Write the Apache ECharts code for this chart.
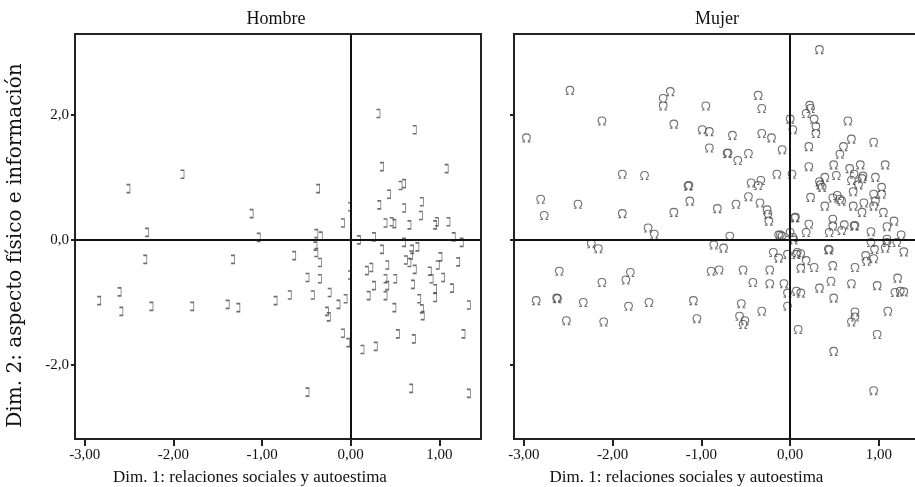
<!DOCTYPE html>
<html>
<head>
<meta charset="utf-8">
<script src="https://cdn.jsdelivr.net/npm/echarts@6/dist/echarts.min.js"></script>
<style>
html,body{margin:0;padding:0;background:#fff;}
#chart{width:915px;height:487px;}
</style>
</head>
<body>
<div id="chart"></div>
<script>
// ---- data ----
const panelTitles = ['Hombre', 'Mujer'];
const xAxisTitle = 'Dim. 1: relaciones sociales y autoestima';
const yAxisTitle = 'Dim. 2: aspecto físico e información';
const xTicks = [-3, -2, -1, 0, 1];
const yTicks = [-2, 0, 2];

const hombreData = [
  [-2.51,0.82],[-1.90,1.05],[-0.37,0.82],[-1.12,0.42],[-0.01,0.53],[-0.09,0.27],
  [-2.30,0.12],[-1.04,0.04],[-0.39,0.10],[-0.34,0.06],[0.09,0.00],[-0.40,-0.10],
  [-2.32,-0.31],[-1.33,-0.31],[-0.64,-0.25],[-0.39,-0.20],[-0.35,-0.36],[-0.49,-0.60],
  [-0.35,-0.62],[-0.01,-0.56],[-2.61,-0.83],[-2.84,-0.97],[-2.59,-1.14],[-2.25,-1.06],
  [-1.79,-1.06],[-1.39,-1.03],[-1.27,-1.08],[-0.85,-0.97],[-0.69,-0.88],[-0.43,-0.88],
  [-0.24,-0.84],[-0.06,-0.94],[-0.14,-1.03],[-0.27,-1.14],[-0.25,-1.23],[-0.09,-1.49],
  [-0.03,-1.64],[-0.49,-2.43],[0.31,2.02],[0.72,1.76],[0.35,1.17],[1.08,1.14],
  [0.56,0.87],[0.60,0.90],[0.43,0.73],[0.32,0.56],[0.60,0.51],[0.80,0.61],
  [0.79,0.39],[0.39,0.27],[0.46,0.29],[0.49,0.26],[0.66,0.24],[0.97,0.29],
  [0.95,0.24],[1.10,0.29],[0.26,0.05],[0.35,-0.15],[0.60,-0.04],[0.69,-0.15],
  [0.75,-0.11],[0.68,-0.24],[1.16,0.05],[1.25,-0.04],[0.62,-0.32],[0.66,-0.36],
  [0.72,-0.47],[1.01,-0.27],[0.98,-0.40],[1.21,-0.35],[0.41,-0.40],[0.18,-0.49],
  [0.23,-0.44],[0.39,-0.62],[0.41,-0.73],[0.50,-0.62],[0.89,-0.50],[0.91,-0.62],
  [1.04,-0.60],[0.26,-0.73],[0.20,-0.89],[0.39,-0.89],[0.70,-0.71],[0.95,-0.78],
  [0.95,-0.92],[1.14,-0.77],[0.77,-0.94],[0.80,-1.10],[0.81,-1.21],[0.49,-1.08],
  [1.33,-1.04],[0.53,-1.50],[0.71,-1.58],[1.27,-1.50],[0.13,-1.75],[0.28,-1.70],
  [0.68,-2.37],[1.33,-2.45]
];

const mujerData = [
  [-2.48,2.39],[-2.97,1.63],[-2.12,1.90],[-1.35,2.37],[-1.43,2.26],[-1.43,2.14],
  [-0.95,2.14],[-0.36,2.31],[-0.32,2.10],[-1.31,1.85],[-0.99,1.76],[-0.91,1.73],
  [-0.65,1.67],[-0.32,1.70],[-0.21,1.63],[0.00,1.93],[0.03,1.76],[-0.91,1.47],
  [-0.71,1.38],[-0.70,1.39],[-0.59,1.27],[-0.47,1.38],[-0.09,1.44],[-1.89,1.05],
  [-1.64,1.03],[-1.15,0.86],[-1.14,0.87],[-0.44,0.91],[-0.33,0.95],[-0.36,0.87],
  [-0.15,1.05],[0.02,1.05],[-2.81,0.65],[-2.77,0.39],[-2.39,0.57],[-1.89,0.42],
  [-1.13,0.62],[-1.31,0.44],[-0.82,0.50],[-0.61,0.57],[-0.47,0.69],[-0.34,0.59],
  [-0.26,0.48],[-0.25,0.41],[-0.24,0.30],[0.05,0.35],[0.06,0.36],[-1.60,0.19],
  [-1.53,0.09],[-0.68,0.06],[-0.13,0.08],[-0.09,0.06],[0.00,0.12],[0.03,0.04],
  [-2.24,-0.06],[-2.16,-0.14],[-0.86,-0.08],[-0.75,-0.13],[-0.19,-0.20],[-0.13,-0.29],
  [-0.03,-0.23],[0.07,-0.23],[-2.60,-0.50],[-2.12,-0.68],[-1.80,-0.52],[-1.85,-0.64],
  [-0.89,-0.50],[-0.80,-0.48],[-0.53,-0.48],[-0.23,-0.48],[-0.42,-0.68],[-0.23,-0.70],
  [-0.07,-0.70],[-0.03,-0.85],[0.07,-0.82],[-2.86,-0.97],[-2.63,-0.93],[-2.62,-0.94],
  [-2.33,-1.00],[-2.52,-1.29],[-2.10,-1.31],[-1.82,-1.06],[-1.59,-1.00],[-1.09,-0.97],
  [-1.05,-1.26],[-0.55,-1.02],[-0.57,-1.22],[-0.51,-1.29],[-0.53,-1.35],[-0.32,-1.14],
  [-0.03,-1.06],[0.09,-1.43],[0.33,3.04],[0.22,2.15],[0.23,2.10],[0.18,2.02],
  [0.27,1.93],[0.29,1.81],[0.29,1.70],[0.65,1.90],[0.21,1.49],[0.69,1.61],
  [0.60,1.49],[0.56,1.37],[0.94,1.56],[0.21,1.17],[0.49,1.20],[0.52,1.03],
  [0.67,1.14],[0.79,1.20],[0.72,1.05],[0.82,1.02],[0.69,0.95],[0.77,0.88],
  [0.81,0.98],[1.07,1.20],[0.96,1.00],[0.39,1.00],[0.33,0.93],[0.36,0.84],
  [0.34,0.88],[0.23,0.68],[0.39,0.54],[0.48,0.67],[0.53,0.71],[0.56,0.65],
  [0.58,0.62],[0.71,0.77],[0.71,0.54],[0.83,0.59],[0.81,0.44],[0.94,0.73],
  [0.96,0.62],[0.94,0.54],[1.03,0.84],[1.03,0.73],[1.05,0.44],[1.17,0.30],
  [1.09,0.21],[0.21,0.25],[0.18,0.12],[0.48,0.33],[0.48,0.22],[0.44,0.12],
  [0.61,0.24],[0.58,0.15],[0.72,0.22],[0.73,0.23],[0.91,0.13],[1.09,0.01],
  [1.20,-0.04],[1.25,0.08],[1.28,-0.19],[-0.11,0.08],[0.04,0.00],[0.08,-0.20],
  [0.12,-0.22],[0.18,-0.33],[0.12,-0.45],[0.27,-0.44],[0.43,-0.15],[0.44,-0.16],
  [0.48,-0.41],[0.73,-0.44],[0.85,-0.25],[0.86,-0.34],[0.94,-0.30],[0.91,-0.04],
  [0.95,-0.15],[1.07,-0.13],[1.09,-0.04],[0.12,-0.85],[0.33,-0.77],[0.46,-0.66],
  [0.69,-0.70],[0.98,-0.73],[0.49,-0.93],[1.21,-0.61],[1.18,-0.84],[1.24,-0.82],
  [1.28,-0.83],[1.10,-1.14],[0.73,-1.15],[0.73,-1.23],[0.69,-1.31],[0.98,-1.51],
  [0.49,-1.78],[0.94,-2.41]
];

// ---- chart ----
const FONT = '"Liberation Serif", "DejaVu Serif", serif';
const INK = '#111';
const LINE = '#222';
const MARK = '#4a4a4a';
const bracketPath = 'path://M0,0H3V10H0';
const omegaPath = 'path://M0,10H2.6V8.6C0.9,7.7 0.2,6.2 0.2,4.7C0.2,2 2.3,0 5,0C7.7,0 9.8,2 9.8,4.7C9.8,6.2 9.1,7.7 7.4,8.6V10H10';

const fmtX = v => v.toFixed(2).replace('.', ',');
const fmtY = v => v.toFixed(1).replace('.', ',');

const X_MIN = -3.11, X_MAX0 = 1.47, X_MAX1 = 1.406;
const Y_MIN = -3.18, Y_MAX = 3.29;
const frameLine = {show: true, onZero: false, lineStyle: {color: LINE, width: 2, cap: 'square'}};

function xMain(idx, max) {
  return {
    type: 'value', gridIndex: idx, min: X_MIN, max: max, position: 'bottom',
    axisLine: frameLine,
    splitLine: {show: false},
    axisTick: {show: true, length: 7, customValues: xTicks, lineStyle: {color: LINE, width: 2}},
    axisLabel: {show: true, customValues: xTicks, formatter: fmtX, margin: 9,
      color: INK, fontFamily: FONT, fontSize: 15},
    name: xAxisTitle, nameLocation: 'middle', nameGap: 30,
    nameTextStyle: {color: INK, fontFamily: FONT, fontSize: 17, padding: [0, 56, 0, 0]}
  };
}
function xTop(idx, max) {
  return {
    type: 'value', gridIndex: idx, min: X_MIN, max: max, position: 'top',
    axisLine: frameLine, splitLine: {show: false},
    axisTick: {show: false}, axisLabel: {show: false}
  };
}
function yLeft(idx, showLabels) {
  const a = {
    type: 'value', gridIndex: idx, min: Y_MIN, max: Y_MAX, position: 'left',
    axisLine: frameLine,
    splitLine: {show: false},
    axisTick: {show: true, length: 4, customValues: yTicks, lineStyle: {color: LINE, width: 2}},
    axisLabel: {show: showLabels, customValues: yTicks, formatter: fmtY, margin: 6,
      color: INK, fontFamily: FONT, fontSize: 15}
  };
  if (showLabels) {
    a.name = yAxisTitle;
    a.nameLocation = 'middle';
    a.nameGap = 49;
    a.nameTextStyle = {color: INK, fontFamily: '"DejaVu Serif", serif', fontSize: 20, padding: [0, 18, 0, 0]};
  }
  return a;
}
function yRight(idx) {
  return {
    type: 'value', gridIndex: idx, min: Y_MIN, max: Y_MAX, position: 'right',
    axisLine: frameLine, splitLine: {show: false},
    axisTick: {show: false}, axisLabel: {show: false}
  };
}
const zeroLines = {
  silent: true, symbol: 'none', label: {show: false},
  lineStyle: {color: INK, width: 2, type: 'solid'},
  emphasis: {disabled: true},
  data: [{xAxis: 0}, {yAxis: 0}]
};

const chart = echarts.init(document.getElementById('chart'), null, {renderer: 'canvas'});
chart.setOption({
  animation: false,
  backgroundColor: '#fff',
  title: [
    {text: panelTitles[0], left: 271, top: 5, textAlign: 'center',
      textStyle: {color: INK, fontFamily: FONT, fontSize: 18, fontWeight: 'normal'}},
    {text: panelTitles[1], left: 712, top: 5, textAlign: 'center',
      textStyle: {color: INK, fontFamily: FONT, fontSize: 18, fontWeight: 'normal'}}
  ],
  grid: [
    {left: 75, top: 34, width: 406, height: 405, outerBoundsMode: 'none', containLabel: false},
    {left: 514, top: 34, width: 401, height: 405, outerBoundsMode: 'none', containLabel: false}
  ],
  xAxis: [xMain(0, X_MAX0), xTop(0, X_MAX0), xMain(1, X_MAX1), xTop(1, X_MAX1)],
  yAxis: [yLeft(0, true), yRight(0), yLeft(1, false)],
  series: [
    {type: 'scatter', name: panelTitles[0], xAxisIndex: 0, yAxisIndex: 0, data: hombreData,
      symbol: bracketPath, symbolSize: [3.5, 8],
      itemStyle: {color: 'transparent', borderColor: MARK, borderWidth: 1.1},
      markLine: zeroLines, z: 3},
    {type: 'scatter', name: panelTitles[1], xAxisIndex: 2, yAxisIndex: 2, data: mujerData,
      symbol: omegaPath, symbolSize: [8, 8],
      itemStyle: {color: 'transparent', borderColor: MARK, borderWidth: 1.1},
      markLine: zeroLines, z: 3}
  ]
});
</script>
</body>
</html>
